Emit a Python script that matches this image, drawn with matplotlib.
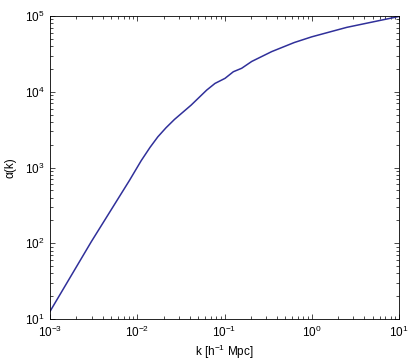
import numpy as np
import matplotlib
matplotlib.use("Agg")
import matplotlib.pyplot as plt
from matplotlib.ticker import LogLocator, NullFormatter

plt.rcParams['font.family'] = ['Liberation Sans', 'DejaVu Sans']
plt.rcParams['mathtext.fontset'] = 'custom'
plt.rcParams['mathtext.rm'] = 'Liberation Sans'
plt.rcParams['mathtext.it'] = 'Liberation Sans:italic'

log_k = [-3.0, -2.527, -2.235, -2.089, -1.955, -1.854, -1.764, -1.67, -1.573, -1.382,
         -1.204, -1.109, -0.994, -0.899, -0.803, -0.688, -0.459, -0.2, 0.0, 0.401,
         0.955, 1.0]
log_alpha = [1.10, 2.02, 2.56, 2.83, 3.09, 3.265, 3.405, 3.525, 3.635, 3.824,
             4.022, 4.11, 4.177, 4.264, 4.31, 4.40, 4.53, 4.65, 4.725, 4.85,
             4.983, 4.995]
k = 10 ** np.array(log_k)
alpha = 10 ** np.array(log_alpha)

fig = plt.figure(figsize=(4.13, 3.62), dpi=100)
ax = fig.add_axes([50 / 413, 1 - 319 / 362, 349 / 413, 303 / 362])
ax.plot(k, alpha, color='#30309a', lw=1.1)
ax.set_xscale('log')
ax.set_yscale('log')
ax.set_xlim(1e-3, 1e1)
ax.set_ylim(1e1, 1e5)
ax.xaxis.set_major_locator(LogLocator(base=10, numticks=10))
ax.yaxis.set_major_locator(LogLocator(base=10, numticks=10))
ax.xaxis.set_minor_locator(LogLocator(base=10, subs=np.arange(2, 10), numticks=20))
ax.yaxis.set_minor_locator(LogLocator(base=10, subs=np.arange(2, 10), numticks=20))
ax.xaxis.set_minor_formatter(NullFormatter())
ax.yaxis.set_minor_formatter(NullFormatter())
ax.tick_params(which='both', direction='in', top=True, right=True, labelsize=8.5, width=0.5)
ax.tick_params(which='major', length=3.5, pad=4)
ax.tick_params(which='minor', length=2)
for s in ax.spines.values():
    s.set_linewidth(0.6)
ax.set_xlabel(r'k [h$^{-1}$ Mpc]', fontsize=8.5, labelpad=2)
ax.set_ylabel(r'α(k)', fontsize=8.5, labelpad=6)
fig.savefig('out.png', dpi=100)
